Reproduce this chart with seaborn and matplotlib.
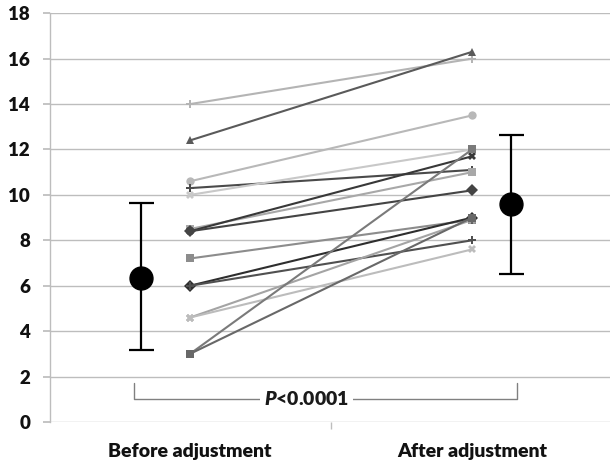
import matplotlib
matplotlib.use("Agg")
import matplotlib.pyplot as plt
import seaborn as sns
import pandas as pd

# --- datos ---
categories = ["Before adjustment", "After adjustment"]
before = [14.0, 12.4, 10.6, 10.3, 10.0, 8.5, 8.4, 8.4, 7.2, 6.0, 6.0, 4.6, 4.6, 3.0, 3.0]
after = [16.0, 16.3, 13.5, 11.1, 12.0, 11.0, 11.7, 10.2, 8.9, 9.0, 8.0, 8.9, 7.6, 12.0, 9.0]
line_colors = ["#b4b4b4", "#5a5a5a", "#b8b8b8", "#4a4a4a", "#c8c8c8", "#a8a8a8", "#383838",
               "#444444", "#8c8c8c", "#2e2e2e", "#505050", "#a4a4a4", "#bcbcbc", "#7a7a7a", "#686868"]
line_markers = ["P", "^", "o", "P", "X", "s", "X", "D", "s", "D", "P", "X", "X", "s", "s"]

mean_vals = [6.35, 9.6]
err_low = [3.17, 6.5]
err_high = [9.63, 12.64]
p_text = "$\\it{P}$<0.0001"

# tabla larga para seaborn
rows = []
for i, (b, a) in enumerate(zip(before, after)):
    rows.append({"subj": i, "x": 0, "val": b})
    rows.append({"subj": i, "x": 1, "val": a})
df = pd.DataFrame(rows)

sns.set_theme(style="white")
plt.rcParams["font.family"] = ["Lato", "DejaVu Sans"]
plt.rcParams["mathtext.fontset"] = "custom"
plt.rcParams["mathtext.it"] = "Lato:italic:heavy"

fig = plt.figure(figsize=(6.12, 4.65), dpi=100)
ax = fig.add_axes([0.081, 0.0925, 0.916, 0.879])

for y in range(0, 19, 2):
    ax.axhline(y, color="#bdbdbd", lw=1.0, zorder=0)

sns.lineplot(data=df, x="x", y="val", hue="subj", style="subj",
             palette=dict(enumerate(line_colors)),
             markers=dict(enumerate(line_markers)), dashes=False,
             lw=1.5, markersize=6, markeredgewidth=0, legend=False, ax=ax)

# medias con barras de error
mean_x = [-0.175, 1.138]
for mx, m, lo, hi in zip(mean_x, mean_vals, err_low, err_high):
    ax.errorbar([mx], [m], yerr=[[m - lo], [hi - m]], fmt="o", color="black",
                ms=16.5, capsize=9, elinewidth=1.6, capthick=1.6, zorder=5)

# corchete del valor P
bx0, bx1, by_top, by_bot = -0.198, 1.159, 1.73, 1.0
ax.plot([bx0, bx0, bx1, bx1], [by_top, by_bot, by_bot, by_top], color="#808080", lw=1)
ax.text(0.414, by_bot, p_text, ha="center", va="center", fontsize=14, fontweight="heavy",
        color="#1a1a1a", bbox=dict(facecolor="white", edgecolor="none", pad=3), zorder=4)

ax.set_xlim(-0.498, 1.49)
ax.set_ylim(0, 18)
ax.set_yticks(range(0, 19, 2))
ax.set_xticks([0, 1])
ax.set_xticklabels(categories)
ax.set_xticks([0.5], minor=True)
ax.tick_params(axis="x", which="major", length=0, pad=15, labelsize=14)
ax.tick_params(axis="x", which="minor", length=5, color="#bdbdbd", bottom=True)
ax.tick_params(axis="y", length=5, color="#bdbdbd", pad=9, labelsize=13.5, left=True)
for lab in ax.get_xticklabels() + ax.get_yticklabels():
    lab.set_fontweight("heavy")
    lab.set_color("#111111")
ax.set_xlabel("")
ax.set_ylabel("")
for s in ["top", "right", "bottom"]:
    ax.spines[s].set_visible(False)
ax.spines["left"].set_color("#bdbdbd")
ax.spines["left"].set_linewidth(1.0)

fig.savefig("out.png", dpi=100)
